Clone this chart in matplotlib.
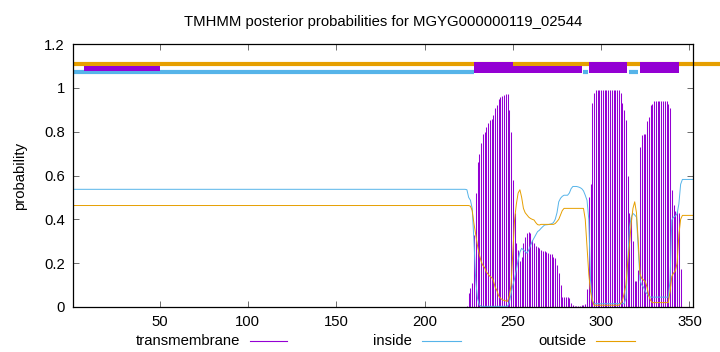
import matplotlib
matplotlib.use('Agg')
import matplotlib.pyplot as plt
import numpy as np
from matplotlib.lines import Line2D
from matplotlib.patches import Rectangle

plt.rcParams['font.family'] = ['Liberation Sans', 'DejaVu Sans']
plt.rcParams['font.size'] = 10.7

title = "TMHMM posterior probabilities for MGYG000000119_02544"
seq_len = 352

# flat part at the start (residues 1..221)
flat_inside = 0.537
flat_outside = 0.463
flat_tm = 0.0

# residues 222..352
tail_start = 222
tm_tail = [
    0, 0, 0.005, 0.062, 0.085, 0.11, 0.33, 0.52, 0.66, 0.70,          # 222-231
    0.747, 0.79, 0.80, 0.82, 0.84, 0.853, 0.86, 0.876, 0.906, 0.92,   # 232-241
    0.949, 0.957, 0.964, 0.968, 0.97, 0.97, 0.90, 0.80, 0.58, 0.43,   # 242-251
    0.29, 0.26, 0.21, 0.23, 0.29, 0.32, 0.336, 0.344, 0.336, 0.306,   # 252-261
    0.29, 0.28, 0.275, 0.268, 0.26, 0.257, 0.257, 0.25, 0.247, 0.244, # 262-271
    0.24, 0.23, 0.222, 0.192, 0.154, 0.10, 0.047, 0.045, 0.045, 0.045,# 272-281
    0.043, 0.02, 0.01, 0.005, 0.005, 0.005, 0.005, 0.008, 0.01, 0.015,# 282-291
    0.08, 0.50, 0.56, 0.93, 0.975, 0.99, 0.99, 0.99, 0.99, 0.99,      # 292-301
    0.99, 0.99, 0.99, 0.99, 0.99, 0.99, 0.99, 0.99, 0.99, 0.975,      # 302-311
    0.93, 0.90, 0.853, 0.60, 0.43, 0.41, 0.30, 0.12, 0.12, 0.17,      # 312-321
    0.73, 0.785, 0.79, 0.79, 0.85, 0.865, 0.92, 0.925, 0.94, 0.94,    # 322-331
    0.94, 0.94, 0.94, 0.94, 0.94, 0.94, 0.925, 0.91, 0.534, 0.465,    # 332-341
    0.44, 0.436, 0.43, 0.172, 0, 0, 0, 0, 0, 0,                       # 342-351
    0,                                                                 # 352
]
inside_tail = [
    0.537, 0.537, 0.535, 0.50, 0.487, 0.45, 0.30, 0.12, 0.04, 0.01,   # 222-231
    0.003, 0.003, 0.003, 0.003, 0.003, 0.003, 0.003, 0.003, 0.003, 0.003,  # 232-241
    0.003, 0.003, 0.003, 0.003, 0.003, 0.003, 0.02, 0.06, 0.10, 0.13, # 242-251
    0.17, 0.214, 0.25, 0.268, 0.26, 0.253, 0.245, 0.26, 0.28, 0.30,   # 252-261
    0.315, 0.33, 0.344, 0.35, 0.359, 0.367, 0.374, 0.375, 0.376, 0.378,  # 262-271
    0.38, 0.385, 0.40, 0.43, 0.48, 0.496, 0.505, 0.51, 0.51, 0.51,    # 272-281
    0.52, 0.54, 0.55, 0.55, 0.55, 0.548, 0.545, 0.54, 0.53, 0.51,     # 282-291
    0.487, 0.40, 0.12, 0.03, 0.015, 0.015, 0.015, 0.015, 0.015, 0.015,# 292-301
    0.015, 0.015, 0.015, 0.015, 0.015, 0.015, 0.015, 0.015, 0.015, 0.015,  # 302-311
    0.015, 0.015, 0.04, 0.20, 0.36, 0.41, 0.427, 0.42, 0.41, 0.27,    # 312-321
    0.123, 0.10, 0.09, 0.07, 0.06, 0.05, 0.045, 0.045, 0.045, 0.045,  # 322-331
    0.045, 0.045, 0.045, 0.045, 0.045, 0.045, 0.045, 0.12, 0.397, 0.41,  # 332-341
    0.415, 0.425, 0.47, 0.56, 0.582, 0.582, 0.582, 0.582, 0.582, 0.582,  # 342-351
    0.582,                                                             # 352
]
outside_tail = [
    0.463, 0.463, 0.463, 0.463, 0.46, 0.44, 0.38, 0.33, 0.28, 0.24,   # 222-231
    0.21, 0.19, 0.18, 0.16, 0.15, 0.14, 0.135, 0.12, 0.09, 0.075,     # 232-241
    0.05, 0.04, 0.033, 0.03, 0.028, 0.026, 0.05, 0.10, 0.25, 0.40,    # 242-251
    0.47, 0.52, 0.535, 0.50, 0.45, 0.43, 0.42, 0.41, 0.404, 0.40,     # 252-261
    0.397, 0.385, 0.376, 0.374, 0.377, 0.377, 0.377, 0.377, 0.377, 0.377,  # 262-271
    0.377, 0.377, 0.381, 0.39, 0.40, 0.42, 0.44, 0.45, 0.45, 0.45,    # 272-281
    0.45, 0.45, 0.45, 0.45, 0.45, 0.45, 0.45, 0.45, 0.45, 0.40,       # 282-291
    0.275, 0.15, 0.07, 0.03, 0.008, 0.008, 0.008, 0.008, 0.008, 0.008,# 292-301
    0.008, 0.008, 0.008, 0.008, 0.008, 0.008, 0.008, 0.008, 0.008, 0.015,  # 302-311
    0.03, 0.06, 0.10, 0.20, 0.28, 0.38, 0.45, 0.48, 0.43, 0.30,       # 312-321
    0.15, 0.13, 0.123, 0.115, 0.09, 0.05, 0.03, 0.02, 0.02, 0.02,     # 322-331
    0.02, 0.02, 0.02, 0.02, 0.02, 0.02, 0.02, 0.07, 0.14, 0.155,      # 332-341
    0.165, 0.20, 0.33, 0.40, 0.418, 0.418, 0.418, 0.418, 0.418, 0.418,# 342-351
    0.418,                                                             # 352
]

# predicted topology bars at the top (residue ranges)
outside_band = [(1, 368)]
inside_band = [(1, 228), (290, 292.5), (316, 321)]
tm_boxes = [(7, 50, 1.078, 1.099), (228, 250, 1.067, 1.117),
            (250, 289, 1.067, 1.099), (293, 314.5, 1.067, 1.117),
            (322, 344, 1.067, 1.117)]

c_tm = '#9400D3'
c_in = '#56B4E9'
c_out = '#E69F00'

residues = np.arange(1, seq_len + 1)
n_flat = tail_start - 1
tm = np.array([flat_tm] * n_flat + tm_tail)
inside = np.array([flat_inside] * n_flat + inside_tail)
outside = np.array([flat_outside] * n_flat + outside_tail)

fig = plt.figure(figsize=(7.2, 3.52), dpi=100)
ax = fig.add_axes([73 / 720, 1 - 307 / 352, 620 / 720, 263 / 352])

# impulses for transmembrane probability
ax.vlines(residues, 0, tm, color=c_tm, lw=0.75)
ax.plot(residues, inside, color=c_in, lw=0.7)
ax.plot(residues, outside, color=c_out, lw=0.7)

for x0, x1 in outside_band:
    ax.plot([x0, x1], [1.109, 1.109], color=c_out, lw=3, solid_capstyle='butt', clip_on=False)
for x0, x1 in inside_band:
    ax.plot([x0, x1], [1.073, 1.073], color=c_in, lw=3, solid_capstyle='butt')
for x0, x1, y0, y1 in tm_boxes:
    ax.add_patch(Rectangle((x0, y0), x1 - x0, y1 - y0, color=c_tm, lw=0, zorder=5))

ax.set_xlim(1, seq_len)
ax.set_ylim(0, 1.2)
ax.set_xticks([50, 100, 150, 200, 250, 300, 350])
ax.set_yticks([0, 0.2, 0.4, 0.6, 0.8, 1.0, 1.2])
ax.set_yticklabels(['0', '0.2', '0.4', '0.6', '0.8', '1', '1.2'])
ax.tick_params(direction='in', top=True, right=True, length=4, width=0.6, color='#555555', pad=6)
for s in ax.spines.values():
    s.set_linewidth(0.9)
ax.set_ylabel('probability', labelpad=12)
ax.set_title(title, fontsize=10.7, pad=13)

# legend below the plot, gnuplot style
leg = [('transmembrane', c_tm, 240, 250, 287),
       ('inside', c_in, 412, 422, 461),
       ('outside', c_out, 586, 596, 635)]
for name, col, tx, lx0, lx1 in leg:
    fig.text(tx / 720, 1 - 341 / 352, name, ha='right', va='center')
    fig.add_artist(Line2D([lx0 / 720, lx1 / 720], [1 - 341 / 352, 1 - 341 / 352], color=col, lw=0.8))

fig.savefig('out.png', dpi=100)
